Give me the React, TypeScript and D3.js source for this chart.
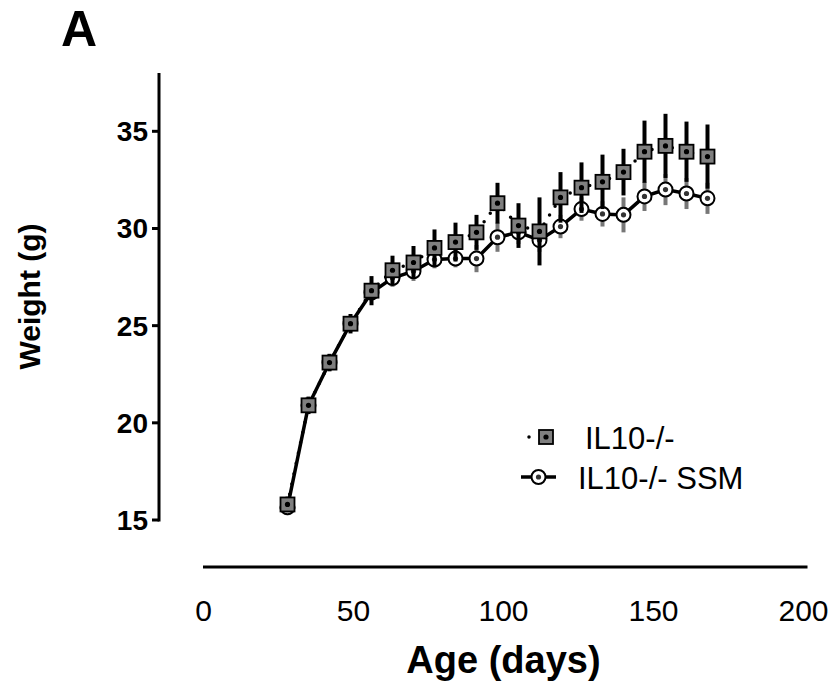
import React from "react";
import * as d3 from "d3";

const days = [28, 35, 42, 49, 56, 63, 70, 77, 84, 91, 98, 105, 112, 119, 126, 133, 140, 147, 154, 161, 168];
const il10Mean = [15.8, 20.9, 23.1, 25.1, 26.8, 27.85, 28.25, 29.0, 29.3, 29.8, 31.3, 30.15, 29.85, 31.6, 32.1, 32.4, 32.9, 33.95, 34.25, 33.95, 33.7];
const il10Err = [0.4, 0.45, 0.45, 0.5, 0.75, 0.75, 0.85, 0.95, 1.0, 0.9, 1.05, 1.15, 1.75, 1.3, 1.3, 1.4, 1.2, 1.6, 1.65, 1.55, 1.65];
const ssmMean = [15.65, 20.9, 23.1, 25.1, 26.7, 27.45, 27.8, 28.4, 28.45, 28.45, 29.55, 29.8, 29.4, 30.1, 31.0, 30.75, 30.7, 31.65, 32.0, 31.8, 31.55];
const ssmErr = [0.4, 0.35, 0.35, 0.35, 0.4, 0.45, 0.5, 0.45, 0.45, 0.7, 0.75, 0.6, 0.6, 0.6, 0.6, 0.65, 0.9, 0.75, 0.8, 0.8, 0.8];
const xTicks = [0, 50, 100, 150, 200];
const yTicks = [15, 20, 25, 30, 35];
const seriesNames = ["IL10-/-", "IL10-/- SSM"];

const FONT = "'Liberation Sans', Arial, Helvetica, sans-serif";

export default function App() {
  const W = 836, H = 688;
  const x = d3.scaleLinear().domain([0, 200]).range([203.5, 803.5]);
  const y = d3.scaleLinear().domain([15, 38]).range([520, 73]);
  const axisX = 159;
  const axisY = 567;

  const ssm = days.map((d, i) => ({ d, m: ssmMean[i], e: ssmErr[i] }));
  const il = days.map((d, i) => ({ d, m: il10Mean[i], e: il10Err[i] }));
  const line = d3.line<{ d: number; m: number }>().x(p => x(p.d)).y(p => y(p.m));

  const sq = 14;
  const cr = 7;

  return (
    <svg width={W} height={H} style={{ position: "absolute", left: 0, top: 0, background: "#fff" }} fontFamily={FONT}>
      <rect x={0} y={0} width={W} height={H} fill="#fff" />
      {/* panel letter */}
      <text x={61} y={46} fontSize={50} fontWeight="bold">A</text>

      {/* y axis */}
      <line x1={axisX} x2={axisX} y1={y(38)} y2={y(15) + 1.5} stroke="#000" strokeWidth={3} />
      {yTicks.map(t => (
        <g key={t}>
          <line x1={axisX - 7} x2={axisX} y1={y(t)} y2={y(t)} stroke="#000" strokeWidth={3} />
          <text x={148} y={y(t) + 10} fontSize={28} fontWeight="bold" textAnchor="end">{t}</text>
        </g>
      ))}
      <text transform={`translate(40,${(y(15) + y(38)) / 2}) rotate(-90)`} fontSize={30} fontWeight="bold" textAnchor="middle">Weight (g)</text>

      {/* x axis */}
      <line x1={x(0) - 0.5} x2={x(200) + 4} y1={axisY} y2={axisY} stroke="#000" strokeWidth={3} />
      {xTicks.map(t => (
        <text key={t} x={x(t)} y={621} fontSize={30} textAnchor="middle">{t}</text>
      ))}
      <text x={x(100)} y={673} fontSize={38} fontWeight="bold" textAnchor="middle">Age (days)</text>

      {/* SSM series */}
      {ssm.map((p, i) => (
        <line key={"se" + i} x1={x(p.d)} x2={x(p.d)} y1={y(p.m - p.e)} y2={y(p.m + p.e)} stroke="#777" strokeWidth={4} />
      ))}
      <path d={line(ssm) || ""} fill="none" stroke="#000" strokeWidth={3.5} />
      {ssm.map((p, i) => (
        <g key={"sc" + i}>
          <circle cx={x(p.d)} cy={y(p.m)} r={cr} fill="#fff" stroke="#000" strokeWidth={2} />
          <circle cx={x(p.d)} cy={y(p.m)} r={2.6} fill="#333" />
        </g>
      ))}

      {/* IL10 series */}
      {il.map((p, i) => (
        <line key={"ie" + i} x1={x(p.d)} x2={x(p.d)} y1={y(p.m - p.e)} y2={y(p.m + p.e)} stroke="#000" strokeWidth={4} />
      ))}
      <path d={line(il) || ""} fill="none" stroke="#000" strokeWidth={3.5} strokeDasharray="0 10.5" strokeLinecap="round" />
      {il.map((p, i) => (
        <g key={"is" + i}>
          <rect x={x(p.d) - sq / 2} y={y(p.m) - sq / 2} width={sq} height={sq} fill="#7f7f7f" stroke="#000" strokeWidth={1.8} />
          <circle cx={x(p.d)} cy={y(p.m)} r={2.6} fill="#000" />
        </g>
      ))}

      {/* legend */}
      <line x1={529} x2={558} y1={437} y2={437} stroke="#000" strokeWidth={3.5} strokeDasharray="0 14.5" strokeLinecap="round" />
      <rect x={546 - sq / 2} y={437 - sq / 2} width={sq} height={sq} fill="#7f7f7f" stroke="#000" strokeWidth={1.8} />
      <circle cx={546} cy={437} r={2.6} fill="#000" />
      <text x={585} y={449} fontSize={31}>{seriesNames[0]}</text>

      <line x1={521} x2={556} y1={477} y2={477} stroke="#000" strokeWidth={3.5} />
      <circle cx={538.5} cy={477} r={cr} fill="#fff" stroke="#000" strokeWidth={2} />
      <circle cx={538.5} cy={477} r={2.6} fill="#333" />
      <text x={578} y={489} fontSize={31}>{seriesNames[1]}</text>
    </svg>
  );
}
